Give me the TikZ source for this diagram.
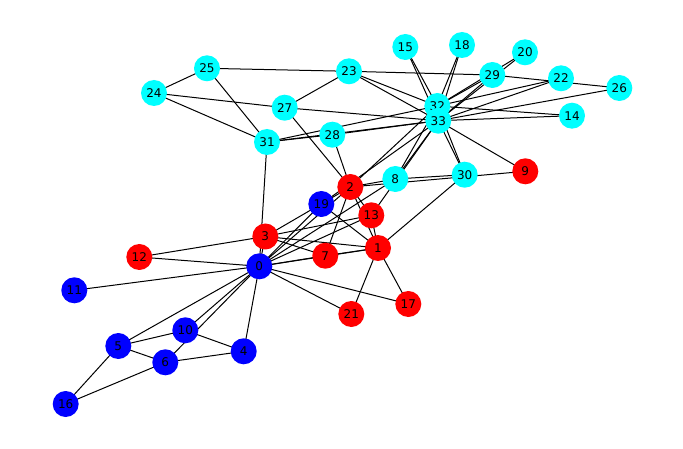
\documentclass[tikz,border=0pt]{standalone}
\usepackage{fontspec}
\setmainfont{DejaVu Sans}
\pgfdeclarelayer{edgelayer}
\pgfsetlayers{edgelayer,main}
\begin{document}
\begin{tikzpicture}[x=1pt,y=-1pt,
  vtx/.style={circle,inner sep=0pt,minimum size=26pt,font=\fontsize{12}{12}\selectfont},
  rv/.style={vtx,fill={rgb,255:red,255;green,0;blue,0}},
  bv/.style={vtx,fill={rgb,255:red,0;green,0;blue,255}},
  cv/.style={vtx,fill={rgb,255:red,0;green,255;blue,255}},
  edge/.style={draw=black,line width=1pt}]
\useasboundingbox (0,0) rectangle (683,449);
\node[bv] (n0) at (259.3,266.3) {0};
\node[rv] (n1) at (378,248) {1};
\node[rv] (n2) at (350.3,187) {2};
\node[rv] (n3) at (265.3,236.5) {3};
\node[bv] (n4) at (243.7,351.3) {4};
\node[bv] (n5) at (118.3,346) {5};
\node[bv] (n6) at (165.3,362.3) {6};
\node[rv] (n7) at (325.3,255.7) {7};
\node[cv] (n8) at (395.3,179) {8};
\node[rv] (n9) at (525.3,171.3) {9};
\node[bv] (n10) at (185.3,330.3) {10};
\node[bv] (n11) at (74.3,290.3) {11};
\node[rv] (n12) at (139.3,257) {12};
\node[rv] (n13) at (371.3,215.3) {13};
\node[cv] (n14) at (572,115.7) {14};
\node[cv] (n15) at (405.3,47) {15};
\node[bv] (n16) at (65.7,404) {16};
\node[rv] (n17) at (408.3,304) {17};
\node[cv] (n18) at (462,45) {18};
\node[bv] (n19) at (321.3,204) {19};
\node[cv] (n20) at (525,52.3) {20};
\node[rv] (n21) at (351.3,314) {21};
\node[cv] (n22) at (561,78.3) {22};
\node[cv] (n23) at (349,71.3) {23};
\node[cv] (n24) at (154,93) {24};
\node[cv] (n25) at (207,68.3) {25};
\node[cv] (n26) at (619.3,88) {26};
\node[cv] (n27) at (284.7,107.7) {27};
\node[cv] (n28) at (332.3,134.7) {28};
\node[cv] (n29) at (492.3,75) {29};
\node[cv] (n30) at (464.7,174.7) {30};
\node[cv] (n31) at (267,142) {31};
\node[cv] (n32) at (437.3,106) {32};
\node[cv] (n33) at (438.3,120.7) {33};
\begin{pgfonlayer}{edgelayer}
\foreach \a/\b in {0/1,0/2,0/3,0/4,0/5,0/6,0/7,0/8,0/10,0/11,0/12,0/13,0/17,0/19,0/21,0/31,
  1/2,1/3,1/7,1/13,1/17,1/19,1/21,1/30,
  2/3,2/7,2/8,2/9,2/13,2/27,2/28,2/32,
  3/7,3/12,3/13,4/6,4/10,5/6,5/10,5/16,6/16,
  8/30,8/32,8/33,9/33,13/33,14/32,14/33,15/32,15/33,18/32,18/33,19/33,
  20/32,20/33,22/32,22/33,23/25,23/27,23/29,23/32,23/33,
  24/25,24/27,24/31,25/31,26/29,26/33,27/33,28/31,28/33,
  29/32,29/33,30/32,30/33,31/32,31/33,32/33}
  \draw[edge] (n\a.center) -- (n\b.center);
\end{pgfonlayer}
\end{tikzpicture}
\end{document}
